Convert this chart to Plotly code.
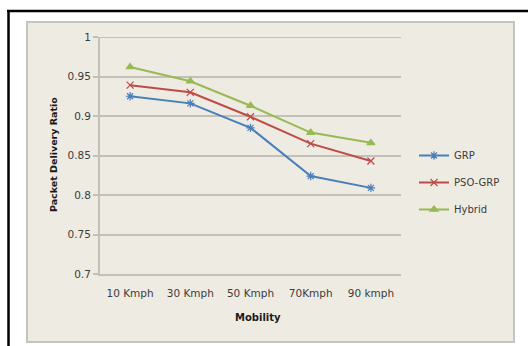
import plotly.graph_objects as go

categories = ["10 Kmph", "30 Kmph", "50 Kmph", "70Kmph", "90 kmph"]
grp = [0.925, 0.916, 0.885, 0.824, 0.809]
pso_grp = [0.939, 0.930, 0.899, 0.865, 0.843]
hybrid = [0.962, 0.944, 0.913, 0.879, 0.866]
y_ticks = [0.7, 0.75, 0.8, 0.85, 0.9, 0.95, 1.0]
y_tick_text = ["0.7", "0.75", "0.8", "0.85", "0.9", "0.95", "1"]

W, H = 528, 346
L, R, T, B = 100, 127, 37, 72
pw, ph = W - L - R, H - T - B


def px(x):
    return (x - L) / pw


def py(y):
    return (H - B - y) / ph


BEIGE = "#EEEBE2"
GRID = "#C3C0B9"
TXT = "#3c3c3c"

fig = go.Figure()
series = [
    ("GRP", grp, "#4A7EBB", "asterisk-open"),
    ("PSO-GRP", pso_grp, "#BE4B48", "x-thin-open"),
    ("Hybrid", hybrid, "#98B954", "triangle-up"),
]
for i, (name, vals, col, sym) in enumerate(series):
    fig.add_trace(go.Scatter(
        x=categories, y=vals, name=name, mode="lines+markers",
        line=dict(color=col, width=2),
        marker=dict(symbol=sym, size=7, color=col, line=dict(color=col, width=1.2)),
        legendgroup=name,
    ))

fig.update_layout(
    width=W, height=H,
    margin=dict(l=L, r=R, t=T, b=B),
    paper_bgcolor="white",
    plot_bgcolor="rgba(0,0,0,0)",
    font=dict(family="DejaVu Sans", size=10, color=TXT),
    showlegend=True,
    legend=dict(
        x=px(414), y=py(141), xanchor="left", yanchor="top",
        bgcolor="rgba(0,0,0,0)", font=dict(size=10, color=TXT),
        tracegroupgap=8, traceorder="grouped",
    ),
    shapes=[
        dict(type="rect", xref="paper", yref="paper",
             x0=px(27), x1=px(514), y0=py(342), y1=py(22),
             fillcolor=BEIGE, line=dict(color="#C4C4C0", width=2), layer="below"),
        dict(type="line", xref="paper", yref="y",
             x0=px(95), x1=1, y0=y_ticks[-1], y1=y_ticks[-1],
             line=dict(color=GRID, width=2), layer="below"),
        dict(type="line", xref="paper", yref="paper",
             x0=px(8.5), x1=px(8.5), y0=py(10), y1=py(360),
             line=dict(color="black", width=2.5)),
        dict(type="line", xref="paper", yref="paper",
             x0=px(7), x1=px(540), y0=py(11), y1=py(11),
             line=dict(color="black", width=2.5)),
    ],
    annotations=[
        dict(text="<b>Packet Delivery Ratio</b>", xref="paper", yref="paper",
             x=px(53), y=py(155), textangle=-90, showarrow=False,
             font=dict(size=9.5, color="#1a1a1a"), xanchor="center", yanchor="middle"),
        dict(text="<b>Mobility</b>", xref="paper", yref="paper",
             x=px(258), y=py(317), showarrow=False,
             font=dict(size=10, color="#1a1a1a"), xanchor="center", yanchor="middle"),
    ],
)

fig.update_xaxes(
    type="category", range=[-0.5, 4.5], showgrid=False,
    showline=True, linecolor=GRID, linewidth=2,
    ticks="", tickfont=dict(size=10.5, color=TXT), ticklabelstandoff=8,
)
fig.update_yaxes(
    range=[0.7, 1.0], tickvals=y_ticks, ticktext=y_tick_text,
    showgrid=True, gridcolor=GRID, gridwidth=2, zeroline=False,
    showline=True, linecolor=GRID, linewidth=2,
    ticks="outside", ticklen=5, tickcolor=GRID, tickwidth=2,
    tickfont=dict(size=10.5, color=TXT),
)

fig.write_html("out.html")
